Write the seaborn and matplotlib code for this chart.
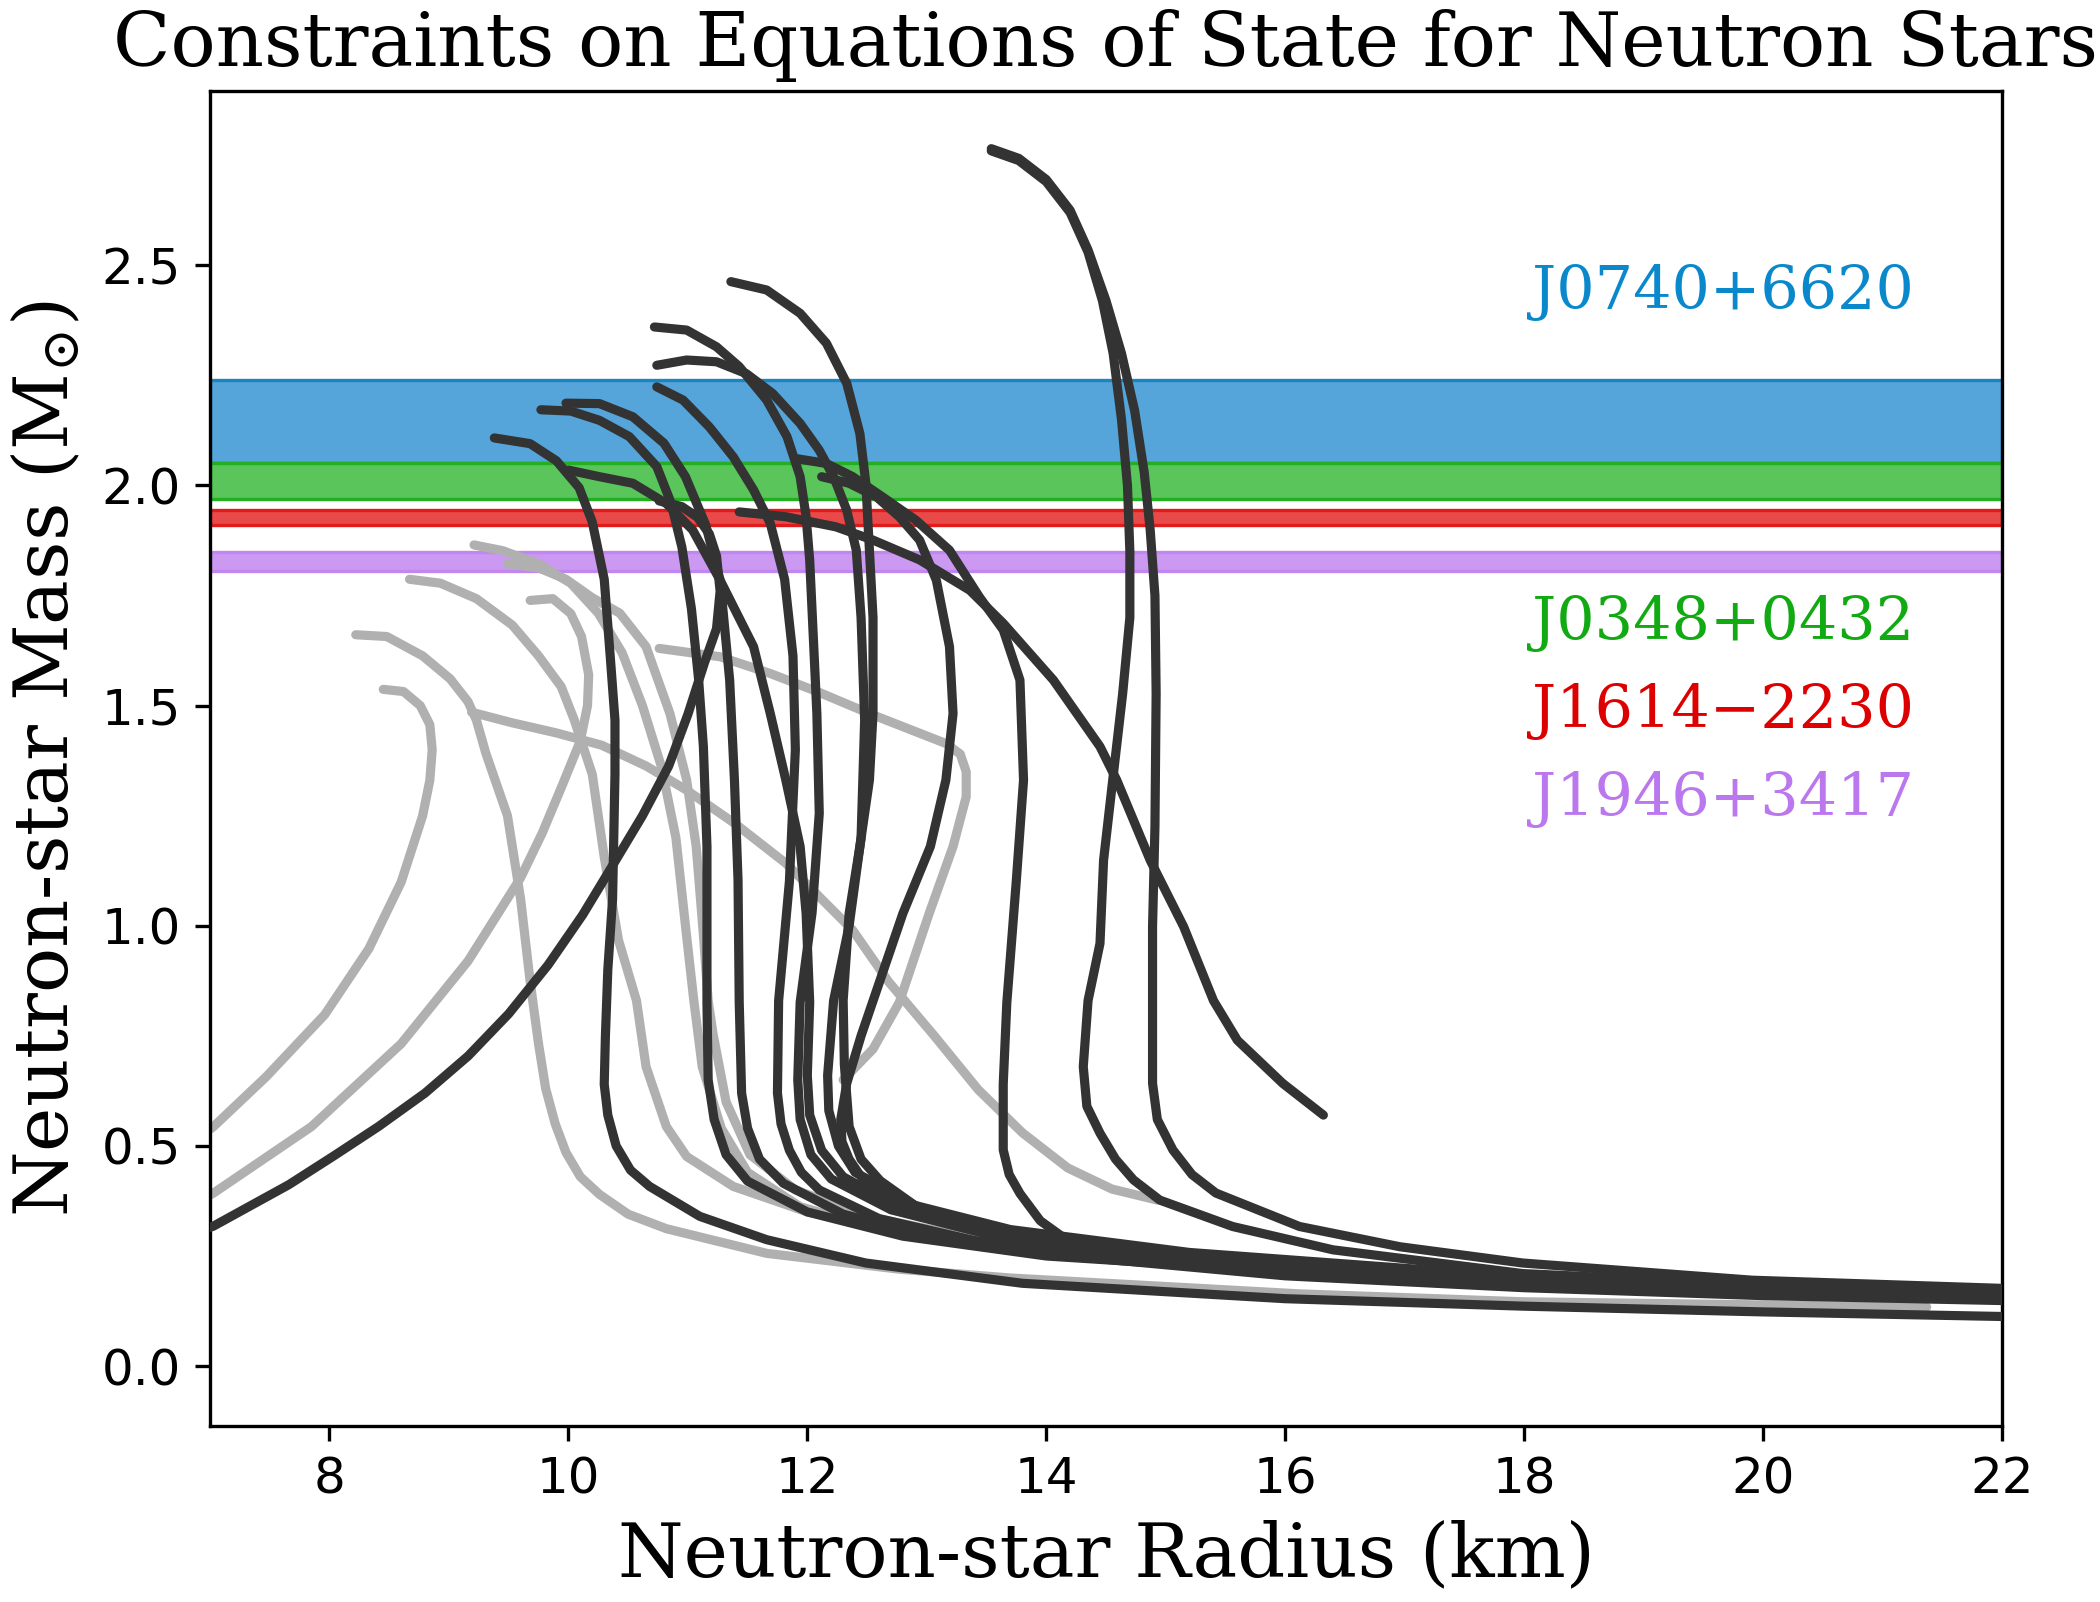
import matplotlib
matplotlib.use("Agg")
import matplotlib.pyplot as plt
import seaborn as sns

# pulsar mass constraints (solar masses)
psr_names = ["J0740+6620", "J0348+0432", "J1614\u22122230", "J1946+3417"]
psr_mass = [2.14, 2.01, 1.928, 1.828]
psr_err_lo = [0.09, 0.04, 0.017, 0.022]
psr_err_hi = [0.10, 0.04, 0.017, 0.022]
psr_label_y = [2.40, 1.65, 1.45, 1.25]
psr_text_colors = ["#0a88cc", "#12aa12", "#dd0000", "#bb77ee"]
psr_fill_colors = ["#55a4da", "#5ac55a", "#e84a4a", "#cc99f2"]
psr_edge_colors = ["#1a86c0", "#22b022", "#e31a1a", "#c286f0"]

# mass-radius curves allowed by the constraints (radius km, mass Msun)
eos_a_r = [9.38, 9.68, 9.90, 10.09, 10.20, 10.30, 10.35, 10.39, 10.39, 10.37, 10.33, 10.31, 10.30, 10.33, 10.40, 10.52, 10.68, 11.10, 11.66, 12.49, 13.80, 16.00, 18.00, 20.00, 22.50]
eos_a_m = [2.108, 2.095, 2.056, 1.995, 1.917, 1.787, 1.613, 1.467, 1.344, 1.061, 0.900, 0.750, 0.640, 0.570, 0.500, 0.445, 0.408, 0.340, 0.287, 0.234, 0.188, 0.153, 0.136, 0.123, 0.110]
eos_b_r = [9.77, 10.02, 10.26, 10.51, 10.74, 10.86, 10.95, 11.03, 11.09, 11.13, 11.16, 11.16, 11.17, 11.22, 11.32, 11.50, 12.00, 12.80, 14.00, 15.84]
eos_b_m = [2.172, 2.169, 2.148, 2.111, 2.043, 1.960, 1.860, 1.720, 1.560, 1.407, 1.180, 0.826, 0.650, 0.560, 0.480, 0.420, 0.350, 0.295, 0.250, 0.218]
eos_c_r = [9.98, 10.26, 10.54, 10.80, 10.98, 11.15, 11.27, 11.35, 11.39, 11.42, 11.43, 11.45, 11.50, 11.60, 11.80, 12.30, 13.00, 14.00, 16.00, 18.00, 20.00, 22.50]
eos_c_m = [2.187, 2.186, 2.156, 2.096, 2.020, 1.910, 1.785, 1.558, 1.331, 1.104, 0.826, 0.620, 0.540, 0.470, 0.415, 0.345, 0.295, 0.255, 0.205, 0.178, 0.160, 0.146]
eos_d_r = [10.00, 10.26, 10.54, 10.82, 11.04, 11.27, 11.55, 11.69, 11.82, 11.94, 11.99, 12.02, 12.00, 12.02, 12.12, 12.30, 12.80, 13.60, 15.00, 17.00, 19.00, 22.50]
eos_d_m = [2.035, 2.020, 2.005, 1.959, 1.899, 1.785, 1.634, 1.482, 1.331, 1.180, 1.028, 0.826, 0.660, 0.570, 0.490, 0.430, 0.355, 0.300, 0.252, 0.210, 0.185, 0.158]
eos_e_r = [10.72, 10.99, 11.24, 11.43, 11.66, 11.83, 11.94, 11.99, 12.02, 12.05, 12.08, 12.10, 12.04, 11.94, 11.92, 11.94, 12.03, 12.20, 12.70, 13.50, 15.00, 17.00, 19.50, 22.50]
eos_e_m = [2.360, 2.353, 2.315, 2.270, 2.194, 2.111, 2.020, 1.929, 1.830, 1.657, 1.482, 1.255, 1.030, 0.826, 0.650, 0.560, 0.480, 0.425, 0.355, 0.300, 0.250, 0.207, 0.180, 0.157]
eos_f_r = [10.74, 10.99, 11.24, 11.49, 11.71, 11.94, 12.10, 12.22, 12.33, 12.41, 12.45, 12.48, 12.45, 12.35, 12.22, 12.17, 12.18, 12.26, 12.40, 12.90, 13.70, 15.20, 17.50, 20.00, 22.50]
eos_f_m = [2.273, 2.285, 2.281, 2.254, 2.209, 2.141, 2.080, 2.020, 1.944, 1.853, 1.700, 1.467, 1.200, 1.000, 0.830, 0.660, 0.580, 0.500, 0.440, 0.365, 0.310, 0.258, 0.212, 0.185, 0.168]
eos_g_r = [10.74, 10.96, 11.18, 11.38, 11.55, 11.69, 11.81, 11.88, 11.90, 11.85, 11.76, 11.75, 11.78, 11.85, 11.95, 12.10, 12.60, 13.40, 14.80, 17.00, 19.50, 22.50]
eos_g_m = [2.224, 2.194, 2.133, 2.065, 1.990, 1.914, 1.787, 1.613, 1.400, 1.100, 0.830, 0.620, 0.550, 0.490, 0.440, 0.400, 0.335, 0.285, 0.240, 0.198, 0.172, 0.152]
eos_h_r = [11.36, 11.66, 11.94, 12.16, 12.33, 12.44, 12.49, 12.52, 12.55, 12.55, 12.52, 12.44, 12.35, 12.30, 12.31, 12.35, 12.45, 12.61, 12.90, 13.25, 14.18, 15.67, 17.80, 20.00, 22.50]
eos_h_m = [2.463, 2.444, 2.391, 2.323, 2.232, 2.118, 2.005, 1.853, 1.700, 1.482, 1.331, 1.180, 1.028, 0.830, 0.685, 0.544, 0.470, 0.421, 0.365, 0.327, 0.271, 0.233, 0.205, 0.183, 0.165]
eos_j_r = [11.91, 12.16, 12.38, 12.63, 12.91, 13.19, 13.44, 13.64, 13.78, 13.81, 13.75, 13.67, 13.64, 13.64, 13.69, 13.78, 13.95, 14.17, 14.73, 16.00, 18.00, 20.00, 22.50]
eos_j_m = [2.061, 2.050, 2.020, 1.974, 1.921, 1.853, 1.747, 1.672, 1.558, 1.331, 1.104, 0.825, 0.640, 0.491, 0.435, 0.392, 0.330, 0.287, 0.249, 0.212, 0.186, 0.172, 0.163]
eos_k_r = [12.12, 12.35, 12.58, 12.77, 12.94, 13.08, 13.19, 13.22, 13.16, 13.03, 12.80, 12.61, 12.45, 12.33, 12.28, 12.29, 12.35, 12.45, 12.60, 13.10, 14.00, 15.50, 17.50, 20.00, 22.50]
eos_k_m = [2.020, 2.005, 1.974, 1.929, 1.876, 1.785, 1.634, 1.482, 1.331, 1.180, 1.028, 0.877, 0.750, 0.642, 0.560, 0.510, 0.470, 0.430, 0.400, 0.340, 0.290, 0.240, 0.205, 0.178, 0.162]
eos_l_r = [11.43, 11.82, 12.24, 12.55, 12.94, 13.36, 13.64, 14.06, 14.45, 14.59, 14.87, 15.15, 15.40, 15.60, 15.98, 16.32]
eos_l_m = [1.940, 1.929, 1.906, 1.876, 1.831, 1.762, 1.687, 1.558, 1.407, 1.331, 1.149, 0.998, 0.830, 0.740, 0.642, 0.570]
eos_n_r = [10.76, 10.95, 11.08, 11.18, 11.24, 11.27, 11.24, 11.14, 11.00, 10.84, 10.62, 10.39, 10.12, 9.83, 9.50, 9.16, 8.80, 8.41, 8.04, 7.66, 7.03, 6.50]
eos_n_m = [1.965, 1.952, 1.928, 1.890, 1.840, 1.760, 1.675, 1.598, 1.480, 1.363, 1.250, 1.146, 1.025, 0.911, 0.800, 0.704, 0.620, 0.544, 0.478, 0.412, 0.318, 0.265]
eos_t1_r = [13.54, 13.77, 14.00, 14.20, 14.35, 14.47, 14.56, 14.63, 14.68, 14.70, 14.70, 14.64, 14.56, 14.48, 14.45, 14.35, 14.31, 14.34, 14.45, 14.58, 14.73, 14.95, 15.56, 16.40, 17.99, 20.00, 22.50]
eos_t1_m = [2.760, 2.738, 2.690, 2.620, 2.530, 2.420, 2.300, 2.150, 2.000, 1.850, 1.700, 1.528, 1.339, 1.149, 0.960, 0.830, 0.680, 0.590, 0.529, 0.470, 0.423, 0.377, 0.317, 0.264, 0.210, 0.185, 0.165]
eos_t2_r = [13.54, 13.77, 14.00, 14.20, 14.35, 14.50, 14.63, 14.74, 14.82, 14.87, 14.91, 14.92, 14.91, 14.89, 14.89, 14.89, 14.93, 15.06, 15.22, 15.42, 16.12, 16.96, 17.99, 19.91, 22.50]
eos_t2_m = [2.765, 2.743, 2.695, 2.625, 2.535, 2.420, 2.300, 2.170, 2.030, 1.900, 1.750, 1.528, 1.225, 0.998, 0.786, 0.642, 0.560, 0.491, 0.435, 0.393, 0.317, 0.271, 0.234, 0.195, 0.172]

# mass-radius curves ruled out (too light)
out_a_r = [8.45, 8.62, 8.76, 8.84, 8.86, 8.84, 8.78, 8.60, 8.33, 7.96, 7.47, 7.03, 6.60]
out_a_m = [1.537, 1.532, 1.500, 1.457, 1.400, 1.330, 1.250, 1.099, 0.948, 0.798, 0.657, 0.544, 0.460]
out_b_r = [8.22, 8.48, 8.78, 9.01, 9.16, 9.23, 9.31, 9.49, 9.60, 9.68, 9.75, 9.81, 9.89, 9.98, 10.10, 10.26, 10.50, 10.82, 11.66, 12.77, 13.70, 16.12, 17.99, 21.37]
out_b_m = [1.661, 1.657, 1.613, 1.561, 1.509, 1.467, 1.391, 1.250, 1.061, 0.873, 0.732, 0.630, 0.550, 0.485, 0.430, 0.390, 0.345, 0.312, 0.256, 0.220, 0.200, 0.164, 0.146, 0.134]
out_c_r = [9.68, 9.87, 10.02, 10.11, 10.17, 10.16, 10.10, 9.95, 9.78, 9.60, 9.16, 8.60, 7.85, 7.03, 6.60]
out_c_m = [1.739, 1.743, 1.709, 1.657, 1.570, 1.500, 1.420, 1.320, 1.210, 1.109, 0.920, 0.732, 0.544, 0.393, 0.330]
out_d_r = [8.67, 8.93, 9.23, 9.53, 9.75, 9.94, 10.05, 10.20, 10.30, 10.42, 10.57, 10.65, 10.82, 10.99, 11.38, 12.00, 13.00]
out_d_m = [1.787, 1.778, 1.743, 1.683, 1.613, 1.543, 1.467, 1.344, 1.156, 0.967, 0.830, 0.680, 0.544, 0.476, 0.408, 0.350, 0.295]
out_e_r = [9.21, 9.45, 9.75, 10.02, 10.25, 10.45, 10.62, 10.78, 10.90, 10.98, 11.05, 11.12, 11.28, 11.50, 11.94, 12.60, 13.50]
out_e_m = [1.865, 1.852, 1.822, 1.778, 1.710, 1.620, 1.500, 1.360, 1.200, 1.000, 0.830, 0.680, 0.540, 0.440, 0.362, 0.310, 0.270]
out_f_r = [9.49, 9.75, 9.98, 10.20, 10.43, 10.65, 10.85, 10.99, 11.07, 11.13, 11.17, 11.21, 11.32, 11.52, 11.90, 12.50, 13.40]
out_f_m = [1.822, 1.813, 1.787, 1.745, 1.710, 1.634, 1.482, 1.331, 1.180, 0.980, 0.830, 0.756, 0.600, 0.480, 0.400, 0.340, 0.290]
out_g_r = [10.76, 11.27, 11.69, 12.10, 12.52, 13.16, 13.28, 13.33, 13.33, 13.22, 13.02, 12.77, 12.55, 12.30]
out_g_m = [1.630, 1.611, 1.573, 1.530, 1.482, 1.414, 1.390, 1.350, 1.293, 1.180, 1.028, 0.826, 0.720, 0.650]
out_h_r = [9.19, 9.53, 9.90, 10.28, 10.65, 10.99, 11.40, 11.82, 12.10, 12.38, 12.68, 13.06, 13.43, 13.80, 14.18, 14.55, 14.93]
out_h_m = [1.485, 1.461, 1.438, 1.410, 1.363, 1.308, 1.231, 1.142, 1.066, 0.990, 0.873, 0.751, 0.628, 0.530, 0.450, 0.402, 0.377]

allowed = [(eos_a_r, eos_a_m), (eos_b_r, eos_b_m), (eos_c_r, eos_c_m), (eos_d_r, eos_d_m),
           (eos_e_r, eos_e_m), (eos_f_r, eos_f_m), (eos_g_r, eos_g_m), (eos_h_r, eos_h_m),
           (eos_j_r, eos_j_m), (eos_k_r, eos_k_m), (eos_l_r, eos_l_m), (eos_n_r, eos_n_m),
           (eos_t1_r, eos_t1_m), (eos_t2_r, eos_t2_m)]
excluded = [(out_a_r, out_a_m), (out_b_r, out_b_m), (out_c_r, out_c_m), (out_d_r, out_d_m),
            (out_e_r, out_e_m), (out_f_r, out_f_m), (out_g_r, out_g_m), (out_h_r, out_h_m)]

sns.set_style("ticks", {"axes.edgecolor": "black", "xtick.color": "black",
                        "ytick.color": "black", "text.color": "black",
                        "axes.labelcolor": "black"})
plt.rcParams["font.family"] = ["DejaVu Sans"]
plt.rcParams["mathtext.fontset"] = "dejavuserif"

fig = plt.figure(figsize=(7, 5.34), dpi=300)
ax = fig.add_axes([0.1, 0.1099, 0.8533, 0.8333])

# mass bands from the pulsars
for m, lo, hi, fc, ec in zip(psr_mass, psr_err_lo, psr_err_hi, psr_fill_colors, psr_edge_colors):
    ax.axhspan(m - lo, m + hi, facecolor=fc, edgecolor=ec, lw=0.8, zorder=1)

for r, m in excluded:
    sns.lineplot(x=r, y=m, sort=False, estimator=None, color="#b0b0b0", lw=2.2,
                 ax=ax, zorder=2)
for r, m in allowed:
    sns.lineplot(x=r, y=m, sort=False, estimator=None, color="#333333", lw=2.2,
                 ax=ax, zorder=3)

for name, y, c in zip(psr_names, psr_label_y, psr_text_colors):
    ax.text(18.07, y, name, color=c, fontsize=14.5, family="DejaVu Serif", zorder=4)

ax.set_xlim(7, 22)
ax.set_ylim(-0.136, 2.896)
ax.set_xticks([8, 10, 12, 14, 16, 18, 20, 22])
ax.set_yticks([0.0, 0.5, 1.0, 1.5, 2.0, 2.5])
ax.tick_params(labelsize=12, length=3.5, width=0.8)
for s in ax.spines.values():
    s.set_linewidth(0.8)

ax.set_title("Constraints on Equations of State for Neutron Stars",
             family="DejaVu Serif", fontsize=18, pad=6)
ax.set_xlabel("Neutron-star Radius (km)", family="DejaVu Serif", fontsize=18)
ax.set_ylabel("Neutron-star Mass ($\\mathrm{M}_{\\odot}$)", family="DejaVu Serif", fontsize=18)

fig.savefig("out.png", dpi=300)
